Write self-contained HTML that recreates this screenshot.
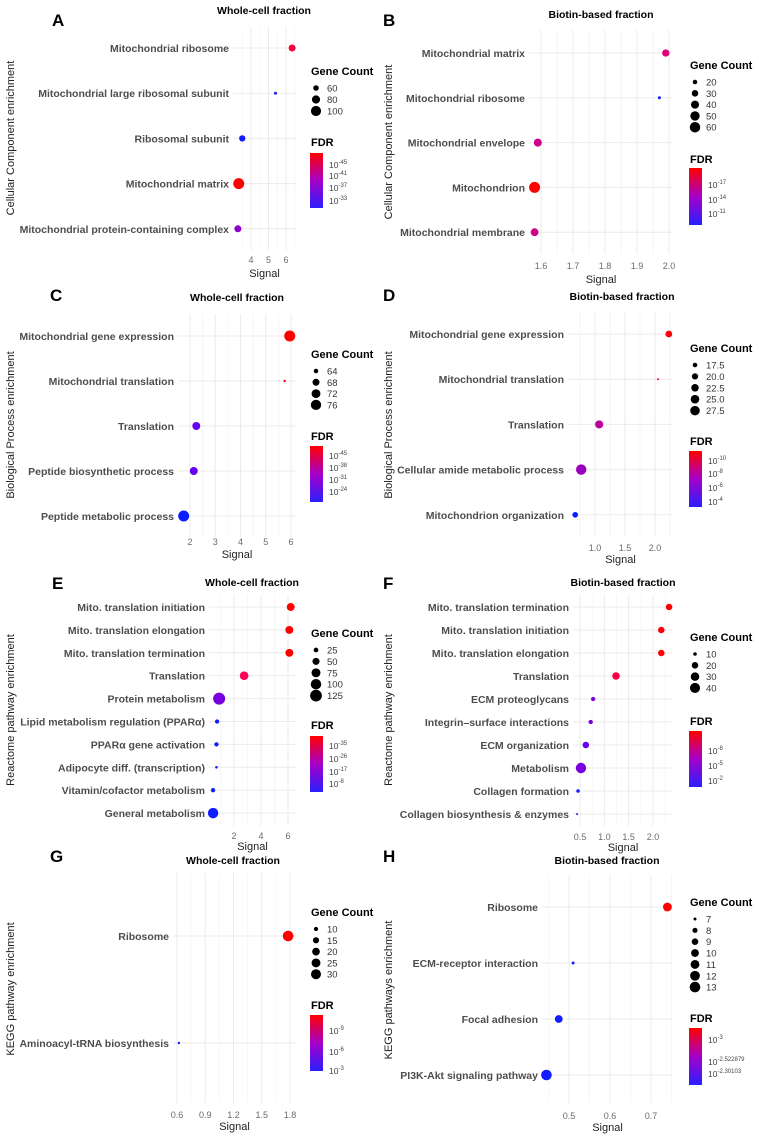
<!DOCTYPE html>
<html><head><meta charset="utf-8">
<style>
html,body{margin:0;padding:0;background:#fff;}
svg{display:block;font-family:"Liberation Sans",Arial,sans-serif;}
</style></head>
<body>
<svg id="fig" width="759" height="1136" viewBox="0 0 759 1136" xmlns="http://www.w3.org/2000/svg">
<defs>
<linearGradient id="fdrgrad" x1="0" y1="1" x2="0" y2="0">
<stop offset="0" stop-color="#2a1fff"/><stop offset="0.5" stop-color="#a600c8"/><stop offset="1" stop-color="#ff0000"/>
</linearGradient>
</defs>
</svg>
<script>
// ---- data ----
const aCats = ["Mitochondrial ribosome","Mitochondrial large ribosomal subunit","Ribosomal subunit","Mitochondrial matrix","Mitochondrial protein-containing complex"];
const aSignal = [6.35, 5.4, 3.5, 3.3, 3.25];
const aCount = [70, 48, 65, 110, 70];
const aFdr = [0.85, 0.1, 0.05, 1.0, 0.4];
const aTicks = [4, 5, 6];
const aSizeLegend = ["60","80","100"];
const aSizeLegendVals = [60, 80, 100];
const aFdrLabels = ["-45","-41","-37","-33"];

const bCats = ["Mitochondrial matrix","Mitochondrial ribosome","Mitochondrial envelope","Mitochondrion","Mitochondrial membrane"];
const bSignal = [1.99, 1.97, 1.59, 1.58, 1.58];
const bCount = [35, 15, 40, 65, 38];
const bFdr = [0.65, 0.05, 0.6, 1.0, 0.6];
const bTicks = [1.6, 1.7, 1.8, 1.9, 2.0];
const bSizeLegend = ["20","30","40","50","60"];
const bSizeLegendVals = [20, 30, 40, 50, 60];
const bFdrLabels = ["-17","-14","-11"];

const cCats = ["Mitochondrial gene expression","Mitochondrial translation","Translation","Peptide biosynthetic process","Peptide metabolic process"];
const cSignal = [5.95, 5.75, 2.25, 2.15, 1.75];
const cCount = [78, 62, 70, 70, 78];
const cFdr = [1.0, 0.9, 0.3, 0.3, 0.03];
const cTicks = [2, 3, 4, 5, 6];
const cSizeLegend = ["64","68","72","76"];
const cSizeLegendVals = [64, 68, 72, 76];
const cFdrLabels = ["-45","-38","-31","-24"];

const dCats = ["Mitochondrial gene expression","Mitochondrial translation","Translation","Cellular amide metabolic process","Mitochondrion organization"];
const dSignal = [2.23, 2.05, 1.07, 0.77, 0.67];
const dCount = [21, 15, 24, 30, 19];
const dFdr = [0.97, 0.92, 0.55, 0.45, 0.03];
const dTicks = [1.0, 1.5, 2.0];
const dSizeLegend = ["17.5","20.0","22.5","25.0","27.5"];
const dSizeLegendVals = [17.5, 20, 22.5, 25, 27.5];
const dFdrLabels = ["-10","-8","-6","-4"];

const eCats = ["Mito. translation initiation","Mito. translation elongation","Mito. translation termination","Translation","Protein metabolism","Lipid metabolism regulation (PPARα)","PPARα gene activation","Adipocyte diff. (transcription)","Vitamin/cofactor metabolism","General metabolism"];
const eSignal = [6.2, 6.1, 6.1, 2.75, 0.9, 0.75, 0.7, 0.7, 0.45, 0.45];
const eCount = [60, 60, 60, 70, 130, 22, 22, 12, 22, 100];
const eFdr = [1.0, 1.0, 1.0, 0.75, 0.35, 0.05, 0.05, 0.05, 0.05, 0.05];
const eTicks = [2, 4, 6];
const eSizeLegend = ["25","50","75","100","125"];
const eSizeLegendVals = [25, 50, 75, 100, 125];
const eFdrLabels = ["-35","-26","-17","-8"];

const fCats = ["Mito. translation termination","Mito. translation initiation","Mito. translation elongation","Translation","ECM proteoglycans","Integrin–surface interactions","ECM organization","Metabolism","Collagen formation","Collagen biosynthesis & enzymes"];
const fSignal = [2.33, 2.17, 2.17, 1.24, 0.77, 0.72, 0.62, 0.52, 0.46, 0.44];
const fCount = [20, 20, 20, 25, 12, 12, 20, 42, 10, 7];
const fFdr = [1.0, 0.97, 0.97, 0.8, 0.35, 0.35, 0.3, 0.35, 0.08, 0.05];
const fTicks = [0.5, 1.0, 1.5, 2.0];
const fSizeLegend = ["10","20","30","40"];
const fSizeLegendVals = [10, 20, 30, 40];
const fFdrLabels = ["-8","-5","-2"];

const gCats = ["Ribosome","Aminoacyl-tRNA biosynthesis"];
const gSignal = [1.78, 0.62];
const gCount = [33, 7];
const gFdr = [1.0, 0.05];
const gTicks = [0.6, 0.9, 1.2, 1.5, 1.8];
const gSizeLegend = ["10","15","20","25","30"];
const gSizeLegendVals = [10, 15, 20, 25, 30];
const gFdrLabels = ["-9","-6","-3"];

const hCats = ["Ribosome","ECM-receptor interaction","Focal adhesion","PI3K-Akt signaling pathway"];
const hSignal = [0.74, 0.51, 0.475, 0.445];
const hCount = [11, 7, 10, 13];
const hFdr = [1.0, 0.05, 0.05, 0.05];
const hTicks = [0.5, 0.6, 0.7];
const hSizeLegend = ["7","8","9","10","11","12","13"];
const hSizeLegendVals = [7, 8, 9, 10, 11, 12, 13];
const hFdrLabels = ["-3","-2.522879","-2.30103"];

// ---- layout (pixels, not data) ----
const panels = [
 {id:"a",letter:"A",title:"Whole-cell fraction",ytitle:"Cellular Component enrichment",cats:aCats,sig:aSignal,cnt:aCount,fdr:aFdr,ticks:aTicks,tickFmt:0,sl:aSizeLegend,slv:aSizeLegendVals,fl:aFdrLabels,
  L:233,R:296,top:28,bot:250,a0:[4,251],a1:[6,286],row0:48,rowStep:45.2,tickY:263,sigY:277,titleX:264,titleY:14,letX:52,letY:26,ytX:14,ytY:138,
  legX:311,gcY:75,gcStep:11.5,cmin:48,cmax:110,rmin:1.5,rmax:5.5,fdrY:146,barY0:153,barY1:208,flY:[165,176,188,201]},
 {id:"b",letter:"B",title:"Biotin-based fraction",ytitle:"Cellular Component enrichment",cats:bCats,sig:bSignal,cnt:bCount,fdr:bFdr,ticks:bTicks,tickFmt:1,sl:bSizeLegend,slv:bSizeLegendVals,fl:bFdrLabels,
  L:529,R:673,top:30,bot:254,a0:[1.6,541],a1:[2.0,669],row0:53,rowStep:44.8,tickY:269,sigY:283,titleX:601,titleY:18,letX:383,letY:26,ytX:392,ytY:142,
  legX:690,gcY:69,gcStep:11.3,cmin:15,cmax:65,rmin:1.5,rmax:5.5,fdrY:163,barY0:168,barY1:225,flY:[185,200,214]},
 {id:"c",letter:"C",title:"Whole-cell fraction",ytitle:"Biological Process enrichment",cats:cCats,sig:cSignal,cnt:cCount,fdr:cFdr,ticks:cTicks,tickFmt:0,sl:cSizeLegend,slv:cSizeLegendVals,fl:cFdrLabels,
  L:178,R:296,top:314,bot:537,a0:[2,190],a1:[6,291],row0:336,rowStep:45,tickY:545,sigY:558,titleX:237,titleY:301,letX:50,letY:301,ytX:14,ytY:425,
  legX:311,gcY:358,gcStep:11.3,cmin:62,cmax:78,rmin:1.2,rmax:5.5,fdrY:440,barY0:446,barY1:502,flY:[456,468,480,492]},
 {id:"d",letter:"D",title:"Biotin-based fraction",ytitle:"Biological Process enrichment",cats:dCats,sig:dSignal,cnt:dCount,fdr:dFdr,ticks:dTicks,tickFmt:1,sl:dSizeLegend,slv:dSizeLegendVals,fl:dFdrLabels,
  L:568,R:673,top:312,bot:537,a0:[1.0,595],a1:[2.0,655],row0:334,rowStep:45.2,tickY:551,sigY:563,titleX:622,titleY:300,letX:383,letY:301,ytX:392,ytY:425,
  legX:690,gcY:352,gcStep:11.4,cmin:15,cmax:30,rmin:1.0,rmax:5.2,fdrY:445,barY0:451,barY1:507,flY:[461,474,488,502]},
 {id:"e",letter:"E",title:"Whole-cell fraction",ytitle:"Reactome pathway enrichment",cats:eCats,sig:eSignal,cnt:eCount,fdr:eFdr,ticks:eTicks,tickFmt:0,sl:eSizeLegend,slv:eSizeLegendVals,fl:eFdrLabels,
  L:209,R:296,top:595,bot:826,a0:[2,234],a1:[6,288],row0:607,rowStep:22.9,tickY:839,sigY:850,titleX:252,titleY:586,letX:52,letY:589,ytX:14,ytY:710,
  legX:311,gcY:637,gcStep:11.4,cmin:12,cmax:130,rmin:1.3,rmax:6,fdrY:729,barY0:736,barY1:792,flY:[746,759,772,784]},
 {id:"f",letter:"F",title:"Biotin-based fraction",ytitle:"Reactome pathway enrichment",cats:fCats,sig:fSignal,cnt:fCount,fdr:fFdr,ticks:fTicks,tickFmt:1,sl:fSizeLegend,slv:fSizeLegendVals,fl:fFdrLabels,
  L:573,R:673,top:595,bot:826,a0:[0.5,580],a1:[2.0,653],row0:607,rowStep:23,tickY:840,sigY:851,titleX:623,titleY:586,letX:383,letY:589,ytX:392,ytY:710,
  legX:690,gcY:641,gcStep:11.3,cmin:7,cmax:42,rmin:1.0,rmax:5.2,fdrY:725,barY0:731,barY1:787,flY:[751,766,781]},
 {id:"g",letter:"G",title:"Whole-cell fraction",ytitle:"KEGG pathway enrichment",cats:gCats,sig:gSignal,cnt:gCount,fdr:gFdr,ticks:gTicks,tickFmt:1,sl:gSizeLegend,slv:gSizeLegendVals,fl:gFdrLabels,
  L:173,R:296,top:873,bot:1103,a0:[0.6,177],a1:[1.8,290],row0:936,rowStep:107,tickY:1118,sigY:1130,titleX:233,titleY:864,letX:50,letY:862,ytX:14,ytY:989,
  legX:311,gcY:916,gcStep:11.3,cmin:7,cmax:33,rmin:1.2,rmax:5.3,fdrY:1009,barY0:1015,barY1:1071,flY:[1031,1052,1071]},
 {id:"h",letter:"H",title:"Biotin-based fraction",ytitle:"KEGG pathways enrichment",cats:hCats,sig:hSignal,cnt:hCount,fdr:hFdr,ticks:hTicks,tickFmt:1,sl:hSizeLegend,slv:hSizeLegendVals,fl:hFdrLabels,
  L:542,R:673,top:875,bot:1103,a0:[0.5,569],a1:[0.7,651],row0:907,rowStep:56,tickY:1119,sigY:1131,titleX:607,titleY:864,letX:383,letY:862,ytX:392,ytY:990,
  legX:690,gcY:906,gcStep:11.35,cmin:7,cmax:13,rmin:1.5,rmax:5.3,fdrY:1022,barY0:1028,barY1:1085,flY:[1040,1062,1074]}
];

const NS = "http://www.w3.org/2000/svg";
const svg = document.getElementById("fig");
function mk(tag, attrs, parent, text){
  const e = document.createElementNS(NS, tag);
  for (const k in attrs) e.setAttribute(k, attrs[k]);
  if (text !== undefined) e.textContent = text;
  parent.appendChild(e);
  return e;
}
function fdrColor(t){
  const r = Math.round(255*Math.min(1, t*1.35));
  const b = Math.round(255*Math.min(1, (1-t)*1.35));
  const g = Math.round(30*(1-t)*(t<0.2?1:0));
  return `rgb(${r},${g},${b})`;
}

panels.forEach(p => {
  const g = mk("g", {}, svg);
  
  
  const k = (p.a1[1]-p.a0[1])/(p.a1[0]-p.a0[0]);
  const xs = v => p.a0[1] + (v - p.a0[0]) * k;
  const ys = i => p.row0 + i * p.rowStep;
  const rs = c => {
    const t = Math.max(0, Math.min(1.1, (c - p.cmin)/(p.cmax - p.cmin)));
    return Math.sqrt(p.rmin*p.rmin + t*(p.rmax*p.rmax - p.rmin*p.rmin));
  };
  const step = p.ticks.length > 1 ? p.ticks[1]-p.ticks[0] : 1;
  for (let v = p.ticks[0] - step*4; v <= p.ticks[p.ticks.length-1] + step*4; v += step) {
    const mx = xs(v + step/2);
    if (mx > p.L && mx < p.R) {
      const ln = mk("line", {x1:mx, x2:mx, y1:p.top, y2:p.bot, stroke:"#f3f3f3", "stroke-width":0.7}, g);
      
      
    }
  }
  p.ticks.forEach(v => {
    const x = xs(v);
    const ln = mk("line", {x1:x, x2:x, y1:p.top, y2:p.bot, stroke:"#ebebeb", "stroke-width":1}, g);
    
    
    const t = mk("text", {x:x, y:p.tickY, "font-size":9, fill:"#6b6b6b", "text-anchor":"middle"}, g, p.tickFmt ? v.toFixed(1) : String(v));
    
    
  });
  p.cats.forEach((c, i) => {
    const y = ys(i);
    const ln = mk("line", {x1:p.L, x2:p.R, y1:y, y2:y, stroke:"#ebebeb", "stroke-width":1}, g);
    
    
    const t = mk("text", {x:p.L-4, y:y+4, "font-size":10.5, "font-weight":"bold", fill:"#4d4d4d", "text-anchor":"end"}, g, c);
    
    
  });
  p.cats.forEach((c, i) => {
    const dot = mk("circle", {cx:xs(p.sig[i]), cy:ys(i), r:rs(p.cnt[i]), fill:fdrColor(p.fdr[i])}, g);
    
    
  });
  let t = mk("text", {x:p.titleX, y:p.titleY, "font-size":10.5, "font-weight":"bold", fill:"#000", "text-anchor":"middle"}, g, p.title);
  
  
  t = mk("text", {x:p.letX, y:p.letY, "font-size":17, "font-weight":"bold", fill:"#000"}, g, p.letter);
  
  
  t = mk("text", {x:(p.L+p.R)/2, y:p.sigY, "font-size":11, fill:"#222", "text-anchor":"middle"}, g, "Signal");
  
  
  t = mk("text", {x:0, y:0, "font-size":11, fill:"#222", "text-anchor":"middle", transform:`translate(${p.ytX},${p.ytY}) rotate(-90)`}, g, p.ytitle);
  
  
  t = mk("text", {x:p.legX, y:p.gcY, "font-size":11, "font-weight":"bold", fill:"#000"}, g, "Gene Count");
  
  
  p.sl.forEach((lab, i) => {
    const y = p.gcY + 13 + i*p.gcStep;
    const c = mk("circle", {cx:p.legX+5, cy:y, r:rs(p.slv[i]), fill:"#000"}, g);
    
    
    const tt = mk("text", {x:p.legX+16, y:y+3.5, "font-size":9.5, fill:"#333"}, g, lab);
    
    
  });
  t = mk("text", {x:p.legX, y:p.fdrY, "font-size":11, "font-weight":"bold", fill:"#000"}, g, "FDR");
  
  
  const bar = mk("rect", {x:p.legX-1, y:p.barY0, width:13, height:p.barY1-p.barY0, fill:"url(#fdrgrad)"}, g);
  
  
  p.fl.forEach((lab, i) => {
    const y = p.flY[i];
    const tt = mk("text", {x:p.legX+18, y:y+3, "font-size":8.5, fill:"#444"}, g);
    
    
    mk("tspan", {}, tt, "10");
    mk("tspan", {dy:-4, "font-size":6}, tt, lab);
  });
});
</script>
</body></html>
